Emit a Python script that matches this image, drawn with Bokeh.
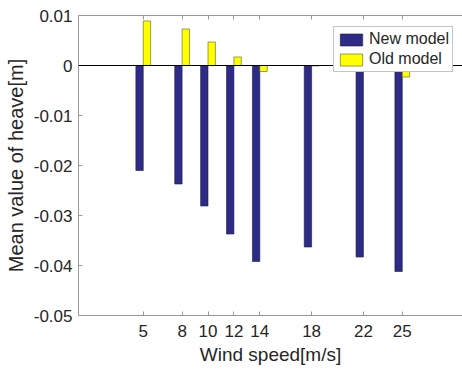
from bokeh.plotting import figure
from bokeh.models import FixedTicker, LinearAxis, Span, Range1d, CustomLabelingPolicy
from bokeh.transform import dodge
from bokeh.embed import file_html
from bokeh.resources import INLINE

# ---- data ----
wind_speed = [5, 8, 10, 12, 14, 18, 22, 25]
new_model = [-0.0210, -0.0237, -0.0281, -0.0337, -0.0392, -0.0363, -0.0383, -0.0412]
old_model = [0.0089, 0.0073, 0.0047, 0.0017, -0.0012, -0.0001, -0.0010, -0.0023]
y_ticks = [-0.05, -0.04, -0.03, -0.02, -0.01, 0, 0.01]
y_tick_labels = ["-0.05", "-0.04", "-0.03", "-0.02", "-0.01", "0", "0.01"]
x_tick_labels = [str(v) for v in wind_speed]

FONT = "Liberation Sans"
TEXT = "#262626"
AXIS = "#9a9a9a"

p = figure(width=462, height=370, output_backend="svg", toolbar_location=None,
           x_range=Range1d(0, 29.65), y_range=Range1d(-0.05, 0.01),
           min_border_left=78, min_border_right=0, min_border_top=15, min_border_bottom=55)
p.outline_line_color = None
p.xgrid.visible = False
p.ygrid.visible = False

src = dict(x=wind_speed, new=new_model, old=old_model)
p.vbar(x=dodge("x", -0.285, range=p.x_range), top="new", width=0.57, source=src,
       fill_color="#2e2b86", line_color="#1a1a40", line_width=0.6, legend_label="New model")
p.vbar(x=dodge("x", 0.285, range=p.x_range), top="old", width=0.57, source=src,
       fill_color="#ffff00", line_color="#5a5a20", line_width=0.6, legend_label="Old model")

p.add_layout(Span(location=0, dimension="width", line_color="black", line_width=1))

# axes
xa = p.xaxis[0]
xa.ticker = FixedTicker(ticks=wind_speed)
xa.major_label_overrides = {v: s for v, s in zip(wind_speed, x_tick_labels)}
xa.axis_label = "Wind speed[m/s]"
ya = p.yaxis[0]
ya.ticker = FixedTicker(ticks=y_ticks)
ya.major_label_overrides = {v: s for v, s in zip(y_ticks, y_tick_labels)}
ya.axis_label = "Mean value of heave[m]"

for ax in (xa, ya):
    ax.axis_line_color = AXIS
    ax.major_tick_line_color = AXIS
    ax.major_tick_in = 4
    ax.major_tick_out = 0
    ax.minor_tick_line_color = None
    ax.major_label_text_font = FONT
    ax.major_label_text_font_size = "17px"
    ax.major_label_text_color = TEXT
    ax.axis_label_text_font = FONT
    ax.axis_label_text_font_style = "normal"
    ax.axis_label_text_color = TEXT
xa.axis_label_text_font_size = "19px"
ya.axis_label_text_font_size = "20px"
xa.major_label_standoff = 9
xa.axis_label_standoff = 4
ya.major_label_standoff = 6
ya.axis_label_standoff = 4

top_axis = LinearAxis(ticker=FixedTicker(ticks=wind_speed))
top_axis.axis_line_color = AXIS
top_axis.major_tick_line_color = AXIS
top_axis.major_tick_in = 4
top_axis.major_tick_out = 0
top_axis.minor_tick_line_color = None
top_axis.major_label_text_font_size = "1px"
top_axis.major_label_standoff = 0
top_axis.major_label_policy = CustomLabelingPolicy(code="""
    const all = Array.from(indices)
    for (const i of all) indices.unset(i)
    return indices
""")
p.add_layout(top_axis, "above")

lg = p.legend[0]
lg.location = (255, 243)
lg.label_text_font = FONT
lg.label_text_font_size = "16px"
lg.label_text_color = TEXT
lg.glyph_width = 28
lg.glyph_height = 15
lg.label_standoff = 4
lg.spacing = 2
lg.padding = 3
lg.margin = 0
lg.border_line_color = "#8a8a8a"
lg.border_line_width = 1
lg.background_fill_alpha = 1

open("out.html", "w").write(file_html(p, INLINE))
